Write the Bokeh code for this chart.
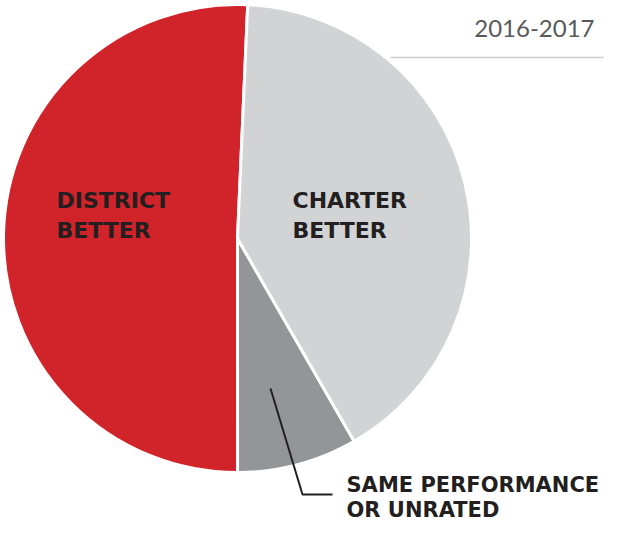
import math
from bokeh.plotting import figure
from bokeh.models import Range1d, ColumnDataSource
from bokeh.core.properties import value
from bokeh.embed import file_html
from bokeh.resources import INLINE

# ---- data ----
categories = ["District better", "Same performance or unrated", "Charter better"]
shares = [50.7, 8.3, 41.0]
colors = ["#D1232A", "#939598", "#D1D3D4"]
label_lines = {
    "District better": ["DISTRICT", "BETTER"],
    "Charter better": ["CHARTER", "BETTER"],
    "Same performance or unrated": ["SAME PERFORMANCE", "OR UNRATED"],
}
year_label = "2016-2017"

# ---- layout (coordinates in picture pixels, y flipped) ----
W, H = 605, 522
IMG_H = 538
def Y(y):
    return IMG_H - y

cx, cy, r = 237, 238, 234
start_deg = 87.5

total = sum(shares)
starts, ends = [], []
a = math.radians(start_deg)
for v in shares:
    starts.append(a)
    a += v / total * 2 * math.pi
    ends.append(a)

src = ColumnDataSource(dict(cat=categories, start=starts, end=ends, color=colors))

p = figure(width=W, height=H, output_backend="svg", toolbar_location=None,
           x_range=Range1d(0, W), y_range=Range1d(IMG_H - H, IMG_H),
           min_border=0)
p.axis.visible = False
p.grid.visible = False
p.outline_line_color = None
p.background_fill_color = "white"

p.wedge(x=cx, y=Y(cy), radius=r, start_angle="start", end_angle="end",
        fill_color="color", line_color="white", line_width=3, source=src)

dark = "#231F20"
font = value("DejaVu Sans")

def lines(x, ys, txts, size):
    p.text(x=[x] * len(txts), y=[Y(y) for y in ys],
           text=txts, text_font=font, text_font_style="bold",
           text_font_size=size, text_color=dark, text_baseline="middle",
           text_align="left")

lines(56, [200, 230], label_lines["District better"], "22px")
lines(292, [200, 230], label_lines["Charter better"], "22px")
lines(346, [484, 509], label_lines["Same performance or unrated"], "21px")

# leader line
p.line(x=[270, 302, 332], y=[Y(388), Y(494), Y(494)], line_color=dark, line_width=2)

# year label and rule
p.text(x=[594], y=[Y(28)], text=[year_label], text_font=value("Lato"),
       text_font_size="24px", text_color="#58595B", text_baseline="middle",
       text_align="right")
p.line(x=[390, 603], y=[Y(57), Y(57)], line_color="#CCCCCC", line_width=1.5)

open("out.html", "w").write(file_html(p, INLINE))
